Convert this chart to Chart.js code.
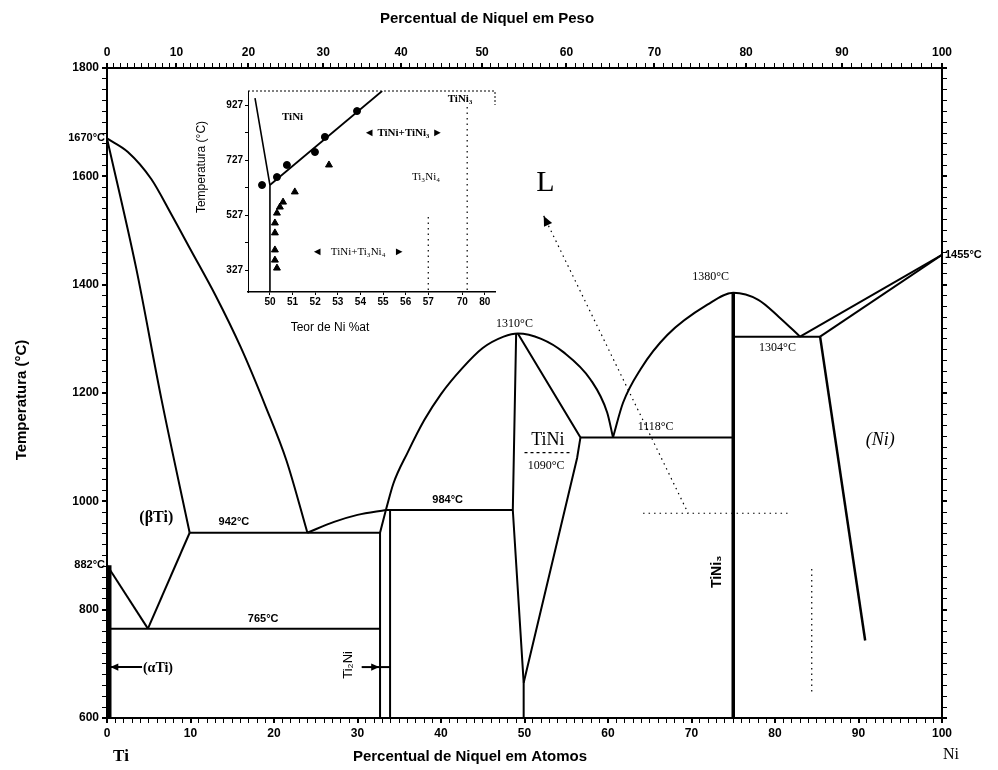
<!DOCTYPE html>
<html lang="pt">
<head>
<meta charset="UTF-8">
<title>Diagrama de fases Ti-Ni</title>
<script src="https://cdn.jsdelivr.net/npm/chart.js"></script>
<style>
  body { margin: 0; background: #fff; }
  #wrap { position: relative; width: 998px; height: 770px; }
  #main { position: absolute; left: 0; top: 0; }
  #inset { position: absolute; left: 185px; top: 82px; }
</style>
</head>
<body>
<div id="wrap">
  <canvas id="main" width="998" height="770"></canvas>
  <canvas id="inset" width="315" height="262"></canvas>
</div>
<script>
// pontos: [% atomica de Ni, temperatura em °C]
const liquidusTi = [[0,1670],[2.5,1645],[5.3,1595],[7.7,1530],[10,1465],[13,1380],[16,1285],[19,1175],[21.5,1075],[24,942]];
const solidusTi = [[0,1670],[3.5,1430],[6.5,1190],[9.9,942]];
const solvusBeta = [[9.9,942],[4.9,765]];
const transusAlpha = [[0,882],[4.9,765]];
const eutectic942 = [[9.9,942],[32.7,942]];
const eutectoid765 = [[0,765],[32.7,765]];
const liquidusTi2Ni = [[24,942],[27.2,962],[30,975],[33.4,984]];
const ti2NiLeft = [[32.7,600],[32.7,942],[33.4,984]];
const ti2NiRight = [[33.9,600],[33.9,984]];
const peritectic984 = [[33.4,984],[48.6,984]];
const liquidusTiNi = [[33.4,984],[34.3,1033],[36,1090],[38,1150],[40,1198],[42.5,1245],[45,1283],[47.5,1304],[49.2,1310],[52,1300],[54.7,1275],[57.9,1225],[59.9,1164],[60.6,1118]];
const tiNiLeft = [[49,1310],[48.6,984],[49.9,665],[49.9,600]];
const tiNiRight = [[49.2,1310],[56.7,1118],[56.3,1080],[49.9,665]];
const line1090 = [[50,1090],[55.4,1090]];
const eutectic1118 = [[56.7,1118],[75,1118]];
const liquidusTiNi3 = [[60.6,1118],[61.8,1182],[63.9,1244],[67.1,1307],[71.9,1363],[75,1385],[78,1372],[80.5,1340],[83,1304]];
const tiNi3Line = [[75,600],[75,1385]];
const eutectic1304 = [[75,1304],[85.4,1304]];
const liquidusNi = [[83,1304],[100,1455]];
const solidusNi = [[85.4,1304],[100,1455]];
const solvusNi = [[85.4,1304],[90.8,743]];
const alphaEdge = [[0.3,600],[0.3,882]];
const pointerL = [[52.3,1527],[69.6,978]];
const dottedH = [[64.2,978],[81.5,978]];
const dottedV = [[84.4,875],[84.4,643]];

// eixos
const atomTickLabels = [0,10,20,30,40,50,60,70,80,90,100];
const weightTickLabels = [0,10,20,30,40,50,60,70,80,90,100];
const tempTickLabels = [600,800,1000,1200,1400,1600,1800];

// detalhe (inset)
const insetLeft = [[49.34,952],[50,636],[50,247]];
const insetSolvus = [[50,636],[54.96,978]];
const insetCircles = [[49.65,636],[50.31,665],[50.75,709],[51.99,756],[52.43,811],[53.85,905]];
const insetTriangles = [[52.61,709],[51.1,611],[50.58,574],[50.44,556],[50.31,534],[50.22,498],[50.22,462],[50.22,400],[50.22,363],[50.31,334]];
const insetLine57 = [[57,520],[57,247]];
const insetLineTiNi3 = [[58.72,920],[58.72,247]];
const insetXTicks = [50,51,52,53,54,55,56,57,58.5,59.5];
const insetXLabels = ['50','51','52','53','54','55','56','57','70','80'];
const insetYLabels = [327,527,727,927];

const toXY = arr => arr.map(p => ({ x: p[0], y: p[1] }));
const wtToAt = w => { const a = w / 58.69, b = (100 - w) / 47.87; return 100 * a / (a + b); };

function line(data, opts) {
  return Object.assign({
    data: toXY(data), showLine: true, borderColor: '#000', borderWidth: 2,
    pointRadius: 0, fill: false, tension: 0
  }, opts || {});
}
const curve = { cubicInterpolationMode: 'monotone' };
const dotted = { borderWidth: 1.2, borderDash: [1.5, 4] };

const sans = '"Liberation Sans Narrow", "Liberation Sans", Arial, sans-serif';
const serif = '"Liberation Serif", "DejaVu Serif", serif';
const tickFont = { family: sans, size: 12, weight: 'bold' };

const mainLabels = [
  { t: '(βTi)', x: 5.9, y: 969, font: 'bold 16px ' + serif },
  { t: '942°C', x: 15.2, y: 962, font: 'bold 11px ' + sans },
  { t: '765°C', x: 18.7, y: 782, font: 'bold 11px ' + sans },
  { t: '(αTi)', x: 4.3, y: 692, font: 'bold 14px ' + serif, align: 'left' },
  { t: 'Ti₂Ni', x: 28.9, y: 698, font: '13px ' + sans, rot: -Math.PI / 2 },
  { t: '984°C', x: 40.8, y: 1003, font: 'bold 11px ' + sans },
  { t: '1310°C', x: 48.8, y: 1328, font: '12px ' + serif },
  { t: 'TiNi', x: 52.8, y: 1112, font: '18px ' + serif },
  { t: '1090°C', x: 52.6, y: 1066, font: '12px ' + serif },
  { t: '1118°C', x: 65.7, y: 1137, font: '12px ' + serif },
  { t: '1380°C', x: 72.3, y: 1414, font: '12px ' + serif },
  { t: '1304°C', x: 80.3, y: 1284, font: '12px ' + serif },
  { t: 'TiNi₃', x: 73.1, y: 870, font: 'bold 14px ' + sans, rot: -Math.PI / 2 },
  { t: '(Ni)', x: 92.6, y: 1113, font: 'italic 18px ' + serif },
  { t: 'L', x: 52.5, y: 1588, font: '30px ' + serif }
];

function arrowHead(ctx, px, py, angle, size) {
  ctx.save();
  ctx.translate(px, py);
  ctx.rotate(angle);
  ctx.beginPath();
  ctx.moveTo(0, 0);
  ctx.lineTo(-size, -size * 0.45);
  ctx.lineTo(-size, size * 0.45);
  ctx.closePath();
  ctx.fill();
  ctx.restore();
}

function drawText(ctx, l, px, py) {
  ctx.save();
  ctx.font = l.font;
  ctx.textAlign = l.align || 'center';
  ctx.textBaseline = 'middle';
  ctx.translate(px, py);
  if (l.rot) ctx.rotate(l.rot);
  ctx.fillText(l.t, 0, 0);
  ctx.restore();
}

const mainText = {
  id: 'mainText',
  afterDraw(chart) {
    const { ctx } = chart;
    const x = chart.scales.x, y = chart.scales.y;
    ctx.save();
    ctx.fillStyle = '#000';
    mainLabels.forEach(l => drawText(ctx, l, x.getPixelForValue(l.x), y.getPixelForValue(l.y)));

    // temperaturas especiais fora do eixo
    const left = chart.chartArea.left, right = chart.chartArea.right;
    drawText(ctx, { t: '1670°C', font: 'bold 11px ' + sans, align: 'right' }, left - 2, y.getPixelForValue(1670));
    drawText(ctx, { t: '882°C', font: 'bold 11px ' + sans, align: 'right' }, left - 2, y.getPixelForValue(882));
    drawText(ctx, { t: '1455°C', font: 'bold 11px ' + sans, align: 'left' }, right + 3, y.getPixelForValue(1455));

    // titulos
    drawText(ctx, { t: 'Percentual de Niquel em Peso', font: 'bold 15px ' + sans }, 487, 19);
    drawText(ctx, { t: 'Percentual de Niquel em Atomos', font: 'bold 15px ' + sans }, 470, 757);
    drawText(ctx, { t: 'Temperatura (°C)', font: 'bold 15px ' + sans, rot: -Math.PI / 2 }, 22, 400);
    drawText(ctx, { t: 'Ti', font: 'bold 17px ' + serif }, 121, 757);
    drawText(ctx, { t: 'Ni', font: '16px ' + serif }, 951, 755);

    // setas
    const ax = x.getPixelForValue(0.4), ay = y.getPixelForValue(694);
    ctx.lineWidth = 2;
    ctx.beginPath(); ctx.moveTo(ax, ay); ctx.lineTo(x.getPixelForValue(4.2), ay); ctx.stroke();
    arrowHead(ctx, ax, ay, Math.PI, 8);
    const tx = x.getPixelForValue(33.9), ty = y.getPixelForValue(694);
    ctx.beginPath(); ctx.moveTo(x.getPixelForValue(30.5), ty); ctx.lineTo(tx, ty); ctx.stroke();
    arrowHead(ctx, x.getPixelForValue(32.6), ty, 0, 8);
    const p0x = x.getPixelForValue(pointerL[0][0]), p0y = y.getPixelForValue(pointerL[0][1]);
    const p1x = x.getPixelForValue(pointerL[1][0]), p1y = y.getPixelForValue(pointerL[1][1]);
    arrowHead(ctx, p0x, p0y, Math.atan2(p0y - p1y, p0x - p1x), 10);
    ctx.restore();
  }
};

const minorAtom = [];
for (let v = 0; v <= 100; v += 1) minorAtom.push(v);
const minorWeight = [];
for (let v = 0; v <= 100; v += 1) minorWeight.push(v);
const minorTemp = [];
for (let v = 600; v <= 1800; v += 20) minorTemp.push(v);

const axisGrid = {
  drawOnChartArea: false, color: '#000', tickLength: 5,
  lineWidth: c => (c.tick && c.tick.major) ? 2 : 1
};

new Chart(document.getElementById('main'), {
  type: 'scatter',
  data: {
    datasets: [
      line(liquidusTi, curve), line(solidusTi, curve), line(solvusBeta), line(transusAlpha),
      line(eutectic942), line(eutectoid765), line(liquidusTi2Ni, curve),
      line(ti2NiLeft), line(ti2NiRight), line(peritectic984), line(liquidusTiNi, curve),
      line(tiNiLeft), line(tiNiRight), line(line1090, { borderWidth: 1.3, borderDash: [3, 3] }),
      line(eutectic1118), line(liquidusTiNi3, curve), line(tiNi3Line, { borderWidth: 3.5 }),
      line(eutectic1304), line(liquidusNi), line(solidusNi), line(solvusNi, { borderWidth: 2.5 }),
      line(alphaEdge, { borderWidth: 4 }),
      line(pointerL, dotted), line(dottedH, dotted), line(dottedV, dotted)
    ]
  },
  options: {
    responsive: false,
    animation: false,
    layout: { padding: 0 },
    plugins: { legend: { display: false }, tooltip: { enabled: false } },
    scales: {
      x: {
        type: 'linear', position: 'bottom', min: 0, max: 100,
        afterBuildTicks: s => { s.ticks = minorAtom.map(v => ({ value: v, major: atomTickLabels.includes(v) })); },
        afterFit: s => { s.height = 52; },
        ticks: { autoSkip: false, maxRotation: 0, color: '#000', font: tickFont, padding: 3,
          callback: v => atomTickLabels.includes(v) ? String(v) : '' },
        grid: axisGrid, border: { color: '#000', width: 2 }
      },
      x2: {
        type: 'linear', position: 'top', min: 0, max: 100,
        afterBuildTicks: s => { s.ticks = minorWeight.map(w => ({ value: wtToAt(w), major: weightTickLabels.includes(w) })); },
        afterFit: s => { s.height = 68; },
        ticks: { autoSkip: false, maxRotation: 0, color: '#000', font: tickFont, padding: 3,
          callback: (v, i) => weightTickLabels.includes(minorWeight[i]) ? String(minorWeight[i]) : '' },
        grid: axisGrid, border: { color: '#000', width: 2 }
      },
      y: {
        type: 'linear', position: 'left', min: 600, max: 1800,
        afterBuildTicks: s => { s.ticks = minorTemp.map(v => ({ value: v, major: tempTickLabels.includes(v) })); },
        afterFit: s => { s.width = 107; },
        ticks: { autoSkip: false, color: '#000', font: tickFont, padding: 3,
          callback: v => tempTickLabels.includes(v) ? String(v) : '' },
        grid: axisGrid, border: { color: '#000', width: 2 }
      },
      y2: {
        type: 'linear', position: 'right', min: 600, max: 1800,
        afterBuildTicks: s => { s.ticks = minorTemp.map(v => ({ value: v, major: tempTickLabels.includes(v) })); },
        afterFit: s => { s.width = 56; },
        ticks: { display: false },
        grid: axisGrid, border: { color: '#000', width: 2 }
      }
    }
  },
  plugins: [mainText]
});

// ---------- detalhe ----------
const insetLabels = [
  { t: 'TiNi', x: 51.0, y: 884, font: 'bold 11px ' + serif },
  { t: 'TiNi₃', x: 58.4, y: 948, font: 'bold 11px ' + serif },
  { t: '◄ TiNi+TiNi₃ ►', x: 55.9, y: 825, font: 'bold 11px ' + serif },
  { t: 'Ti₃Ni₄', x: 56.9, y: 665, font: '11px ' + serif },
  { t: '◄   TiNi+Ti₃Ni₄   ►', x: 53.9, y: 393, font: '11px ' + serif }
];

const insetText = {
  id: 'insetText',
  afterDraw(chart) {
    const { ctx, chartArea } = chart;
    const x = chart.scales.x, y = chart.scales.y;
    ctx.save();
    ctx.fillStyle = '#000';
    insetLabels.forEach(l => drawText(ctx, l, x.getPixelForValue(l.x), y.getPixelForValue(l.y)));
    drawText(ctx, { t: 'Temperatura (°C)', font: '12px ' + sans, rot: -Math.PI / 2 }, 17, 85);
    drawText(ctx, { t: 'Teor de Ni %at', font: '12px ' + sans }, 145, 246);
    ctx.strokeStyle = '#000';
    ctx.lineWidth = 1;
    ctx.setLineDash([2, 2]);
    ctx.beginPath();
    ctx.moveTo(chartArea.left, chartArea.top);
    ctx.lineTo(chartArea.right, chartArea.top);
    ctx.lineTo(chartArea.right, chartArea.top + 14);
    ctx.stroke();
    ctx.restore();
  }
};

new Chart(document.getElementById('inset'), {
  type: 'scatter',
  data: {
    datasets: [
      line(insetLeft, { borderWidth: 1.6 }),
      line(insetSolvus, { borderWidth: 1.8 }),
      line(insetLine57, dotted),
      line(insetLineTiNi3, dotted),
      { data: toXY(insetCircles), pointStyle: 'circle', pointRadius: 3.5, backgroundColor: '#000', borderColor: '#000', showLine: false },
      { data: toXY(insetTriangles), pointStyle: 'triangle', pointRadius: 4, backgroundColor: '#000', borderColor: '#000', showLine: false }
    ]
  },
  options: {
    responsive: false,
    animation: false,
    layout: { padding: { top: 9, right: 5 } },
    plugins: { legend: { display: false }, tooltip: { enabled: false } },
    scales: {
      x: {
        type: 'linear', min: 49.03, max: 59.95,
        afterBuildTicks: s => { s.ticks = insetXTicks.map(v => ({ value: v })); },
        afterFit: s => { s.height = 52; },
        ticks: { autoSkip: false, maxRotation: 0, color: '#000', padding: 1,
          font: { family: sans, size: 10, weight: 'bold' },
          callback: (v, i) => insetXLabels[i] },
        grid: { drawOnChartArea: false, color: '#000', tickLength: 3 },
        border: { color: '#000', width: 1.5 }
      },
      y: {
        type: 'linear', min: 247, max: 978,
        afterBuildTicks: s => { s.ticks = [327, 427, 527, 627, 727, 827, 927].map(v => ({ value: v })); },
        afterFit: s => { s.width = 63; },
        ticks: { autoSkip: false, color: '#000', padding: 2,
          font: { family: sans, size: 10, weight: 'bold' },
          callback: v => insetYLabels.includes(v) ? String(v) : '' },
        grid: { drawOnChartArea: false, color: '#000', tickLength: 3 },
        border: { color: '#000', width: 1, dash: [2, 2] }
      }
    }
  },
  plugins: [insetText]
});
</script>
</body>
</html>
